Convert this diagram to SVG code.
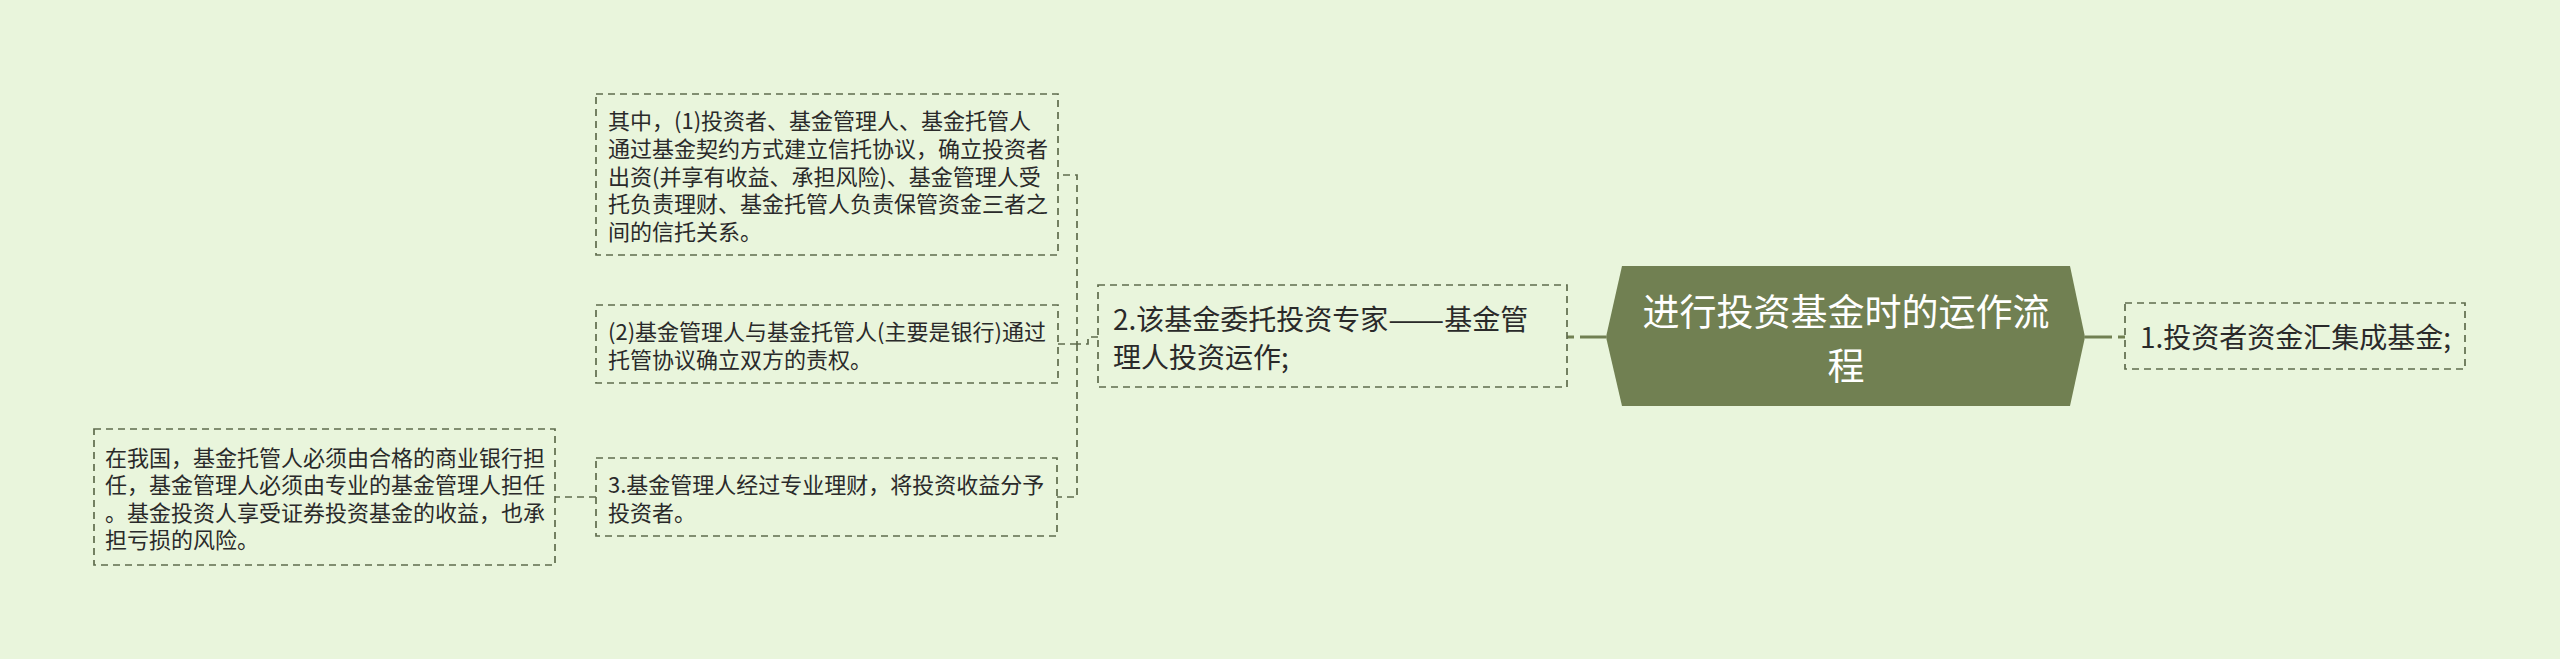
<svg xmlns="http://www.w3.org/2000/svg" width="2560" height="659" viewBox="0 0 2560 659">
<style>
.bg{fill:#e9f5dc}
.box{fill:none;stroke:#5f6c4d;stroke-width:1.7;stroke-dasharray:7 5}
.dc{fill:none;stroke:#5f6c4d;stroke-width:1.7;stroke-dasharray:7 5}
.sc{fill:none;stroke:#718052;stroke-width:3}
.t{font-family:"Noto Sans CJK SC","Noto Sans",sans-serif;fill:#2a2a2a;dominant-baseline:central}
.s22{font-size:22px}
.s28{font-size:28px}
.root{fill:#718052}
.rt{font-family:"Noto Sans CJK SC","Noto Sans",sans-serif;fill:#ffffff;font-size:37px;text-anchor:middle;dominant-baseline:central}
</style>
<rect class="bg" x="0" y="0" width="2560" height="659"/>
<g id="connectors">
<path class="sc" d="M1606 337 H1580"/>
<path class="sc" d="M1574 337 H1567"/>
<path class="sc" d="M2085 337 H2112"/>
<path class="sc" d="M2118 337 H2125"/>
<path class="dc" d="M1098 337 H1088 V344 H1077 V175 H1058"/>
<path class="dc" d="M1077 344 H1058"/>
<path class="dc" d="M1077 344 V497 H1057"/>
<path class="dc" d="M596 497 H555"/>
</g>
<g id="root">
<polygon class="root" points="1606,337 1622,266 2070,266 2085,337 2070,406 1622,406"/>
<text class="rt"><tspan x="1846" y="309.5">进行投资基金时的运作流</tspan><tspan x="1846" y="364">程</tspan></text>
</g>
<g id="node1">
<rect class="box" x="2125" y="303" width="340" height="66"/>
<text class="t s28" x="2140" y="336">1.投资者资金汇集成基金;</text>
</g>
<g id="node2">
<rect class="box" x="1098" y="285" width="469" height="102"/>
<text class="t s28"><tspan x="1113" y="318">2.该基金委托投资专家</tspan><tspan textLength="56" lengthAdjust="spacingAndGlyphs">——</tspan><tspan>基金管</tspan><tspan x="1113" y="356">理人投资运作;</tspan></text>
</g>
<g id="nodeA">
<rect class="box" x="596" y="94" width="462" height="161"/>
<text class="t s22"><tspan x="608" y="119.3">其中，(1)投资者、基金管理人、基金托管人</tspan><tspan x="608" y="146.9">通过基金契约方式建立信托协议，确立投资者</tspan><tspan x="608" y="174.5">出资(并享有收益、承担风险)、基金管理人受</tspan><tspan x="608" y="202.1">托负责理财、基金托管人负责保管资金三者之</tspan><tspan x="608" y="229.7">间的信托关系。</tspan></text>
</g>
<g id="nodeB">
<rect class="box" x="596" y="305" width="462" height="78"/>
<text class="t s22"><tspan x="608" y="330.2">(2)基金管理人与基金托管人(主要是银行)通过</tspan><tspan x="608" y="357.8">托管协议确立双方的责权。</tspan></text>
</g>
<g id="nodeC">
<rect class="box" x="596" y="458" width="461" height="78"/>
<text class="t s22"><tspan x="608" y="483.2">3.基金管理人经过专业理财，将投资收益分予</tspan><tspan x="608" y="510.8">投资者。</tspan></text>
</g>
<g id="nodeD">
<rect class="box" x="94" y="429" width="461" height="136"/>
<text class="t s22"><tspan x="105" y="455.6">在我国，基金托管人必须由合格的商业银行担</tspan><tspan x="105" y="483.2">任，基金管理人必须由专业的基金管理人担任</tspan><tspan x="105" y="510.8">。基金投资人享受证券投资基金的收益，也承</tspan><tspan x="105" y="538.4">担亏损的风险。</tspan></text>
</g>
</svg>
